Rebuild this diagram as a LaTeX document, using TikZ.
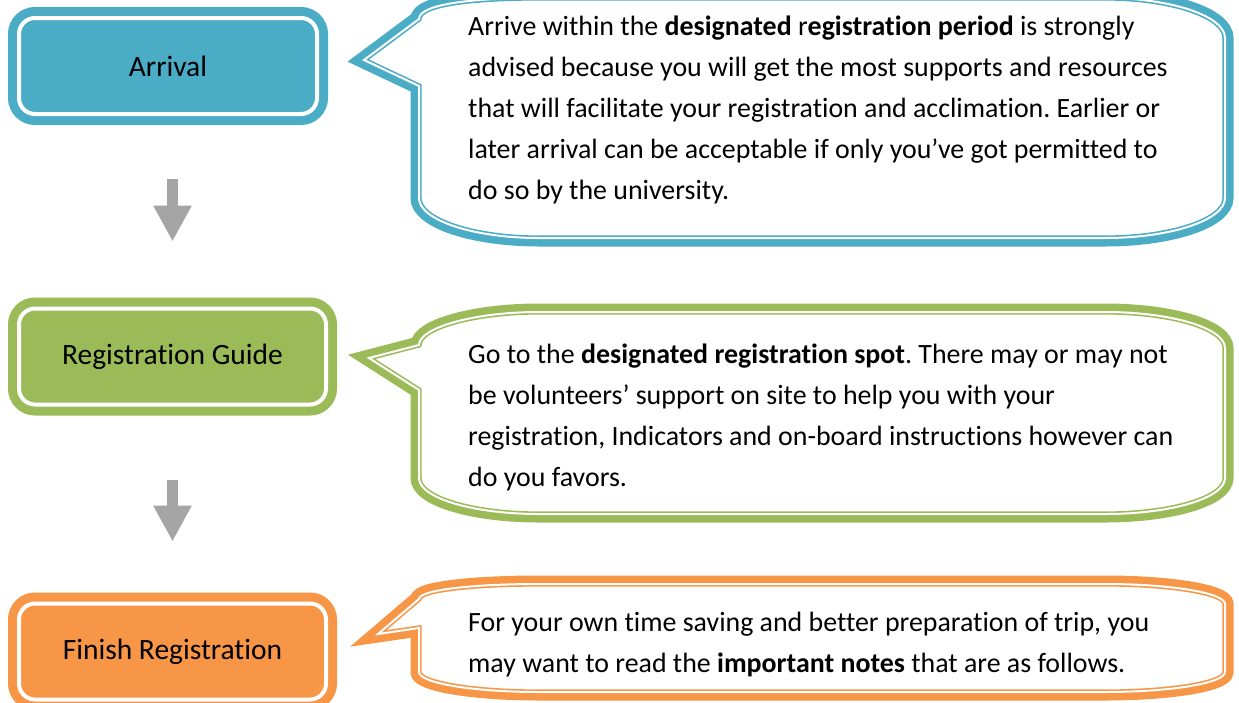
\documentclass[tikz,border=0pt]{standalone}
\usepackage{fontspec}
\setmainfont{Carlito}[Ligatures=NoCommon]
\frenchspacing
\usetikzlibrary{arrows.meta}
\definecolor{arrivalblue}{HTML}{4BACC6}
\definecolor{guidegreen}{HTML}{9BBB59}
\definecolor{finishorange}{HTML}{F79646}
\definecolor{flowgray}{HTML}{A5A5A5}
\tikzset{
  stepbox/.style={draw=#1, fill=#1, double=white, double distance=4pt, line width=9pt,
    rounded corners=16pt, minimum height=96pt, inner sep=0pt, outer sep=0pt,
    font=\fontsize{29.5}{34}\selectfont},
  bubble/.style={preaction={draw=#1, line width=17pt}, draw=#1, fill=white,
    double=white, double distance=2pt, line width=1.6pt},
  note/.style={anchor=base west, align=left, inner sep=0pt, font=\fontsize{27.9}{41}\selectfont},
  flow/.style={draw=flowgray, line width=11pt, -{Triangle[width=36pt, length=36pt]}}
}

\begin{document}
\begin{tikzpicture}[x=1pt, y=-1pt]
\useasboundingbox (0,0) rectangle (1239,702);
\node[stepbox=arrivalblue, minimum width=298pt] (arrival) at (168,66) {Arrival};
\node[stepbox=guidegreen, minimum width=307pt] (guide) at (172.5,356.5) {Registration Guide};
\node[stepbox=finishorange, minimum width=307pt] (finish) at (172.5,651.5) {Finish Registration};
\draw[flow, shorten <=65pt, shorten >=67pt] (arrival.south -| guide.north) -- (guide.north);
\draw[flow, shorten <=75.5pt, shorten >=62pt] (guide.south) -- (finish.north);
% callouts
\draw[bubble=arrivalblue] (364,60) -- (419,86) -- (419,198)
  .. controls (419,220) and (473,238) .. (539,238) -- (1105,238)
  .. controls (1171,238) and (1225,220) .. (1225,198) -- (1225,38)
  .. controls (1225,16) and (1171,-2) .. (1105,-2) -- (539,-2)
  .. controls (473,-2) and (419,4) .. (419,19) -- cycle;
\draw[bubble=guidegreen] (369,358) -- (419,390) -- (419,478)
  .. controls (419,498) and (473,514) .. (539,514) -- (1105,514)
  .. controls (1171,514) and (1225,498) .. (1225,478) -- (1225,348)
  .. controls (1225,328) and (1171,312) .. (1105,312) -- (539,312)
  .. controls (473,312) and (419,328) .. (419,345) -- cycle;
\draw[bubble=finishorange] (378,634) -- (419,628) -- (419,672)
  .. controls (419,683) and (473,692) .. (539,692) -- (1105,692)
  .. controls (1171,692) and (1225,683) .. (1225,672) -- (1225,604)
  .. controls (1225,593) and (1171,584) .. (1105,584) -- (539,584)
  .. controls (473,584) and (419,590) .. (419,599) -- cycle;
\node[note] (arrivalnote) at (468,199) {Arrive within the \textbf{designated} r\textbf{egistration period} is strongly\\
  advised because you will get the most supports and resources\\
  that will facilitate your registration and acclimation. Earlier or\\
  later arrival can be acceptable if only you’ve got permitted to\\
  do so by the university.};
\node[note] (guidenote) at (468,486) {Go to the \textbf{designated registration spot}. There may or may not\\
  be volunteers’ support on site to help you with your\\
  registration, Indicators and on-board instructions however can\\
  do you favors.};
\node[note] (finishnote) at (468,672) {For your own time saving and better preparation of trip, you\\
  may want to read the \textbf{important notes} that are as follows.};
\end{tikzpicture}
\end{document}
